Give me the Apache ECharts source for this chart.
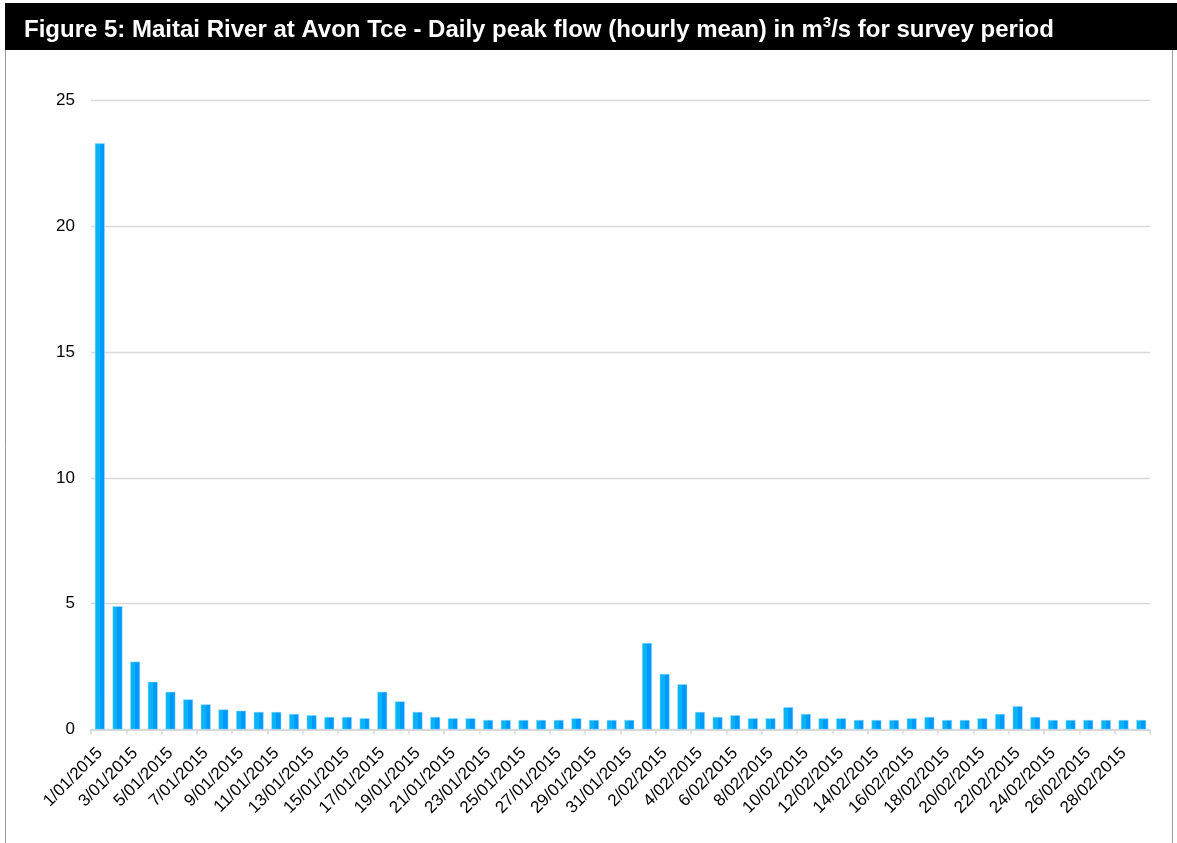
<!DOCTYPE html>
<html>
<head>
<meta charset="utf-8">
<script src="https://cdn.jsdelivr.net/npm/echarts@6/dist/echarts.min.js"></script>
<style>
html,body{margin:0;padding:0;background:#fff;}
#c{width:1177px;height:843px;}
</style>
</head>
<body>
<div id="c"></div>
<script>
var titleText = 'Figure 5: Maitai River at Avon Tce - Daily peak flow (hourly mean) in m{sup|3}/s for survey period';

var categories = [
  '1/01/2015','2/01/2015','3/01/2015','4/01/2015','5/01/2015','6/01/2015','7/01/2015','8/01/2015','9/01/2015','10/01/2015',
  '11/01/2015','12/01/2015','13/01/2015','14/01/2015','15/01/2015','16/01/2015','17/01/2015','18/01/2015','19/01/2015','20/01/2015',
  '21/01/2015','22/01/2015','23/01/2015','24/01/2015','25/01/2015','26/01/2015','27/01/2015','28/01/2015','29/01/2015','30/01/2015',
  '31/01/2015','1/02/2015','2/02/2015','3/02/2015','4/02/2015','5/02/2015','6/02/2015','7/02/2015','8/02/2015','9/02/2015',
  '10/02/2015','11/02/2015','12/02/2015','13/02/2015','14/02/2015','15/02/2015','16/02/2015','17/02/2015','18/02/2015','19/02/2015',
  '20/02/2015','21/02/2015','22/02/2015','23/02/2015','24/02/2015','25/02/2015','26/02/2015','27/02/2015','28/02/2015','1/03/2015'
];

var peakFlow = [
  23.3, 4.9, 2.7, 1.9, 1.5, 1.2, 1.0, 0.8, 0.75, 0.7,
  0.7, 0.62, 0.57, 0.5, 0.5, 0.45, 1.5, 1.12, 0.7, 0.5,
  0.45, 0.45, 0.38, 0.38, 0.38, 0.38, 0.38, 0.45, 0.38, 0.38,
  0.38, 3.44, 2.21, 1.8, 0.7, 0.5, 0.57, 0.45, 0.45, 0.89,
  0.62, 0.45, 0.45, 0.38, 0.38, 0.38, 0.45, 0.5, 0.38, 0.38,
  0.45, 0.62, 0.93, 0.5, 0.38, 0.38, 0.38, 0.38, 0.38, 0.38
];

var yMin = 0, yMax = 25, yInterval = 5;

var chart = echarts.init(document.getElementById('c'), null, {renderer: 'canvas'});
var font = '"Liberation Sans", Arial, sans-serif';

chart.setOption({
  backgroundColor: '#ffffff',
  animation: false,
  graphic: [
    {type: 'rect', z: -1, shape: {x: 5.5, y: 49.5, width: 1167, height: 820}, style: {fill: '#ffffff', stroke: '#9a9a9a', lineWidth: 1}},
    {type: 'rect', z: 0, shape: {x: 5, y: 3, width: 1172, height: 47}, style: {fill: '#000000'}}
  ],
  title: {
    text: titleText,
    left: 19,
    top: 10,
    textStyle: {
      color: '#ffffff', fontFamily: font, fontWeight: 'bold', fontSize: 24, lineHeight: 30,
      rich: {sup: {color: '#ffffff', fontFamily: font, fontWeight: 'bold', fontSize: 15, lineHeight: 30, verticalAlign: 'top', padding: [0,0,10,0]}}
    },
    z: 10
  },
  grid: {left: 91, right: 27, top: 100.5, bottom: 113.5, containLabel: false},
  xAxis: {
    type: 'category',
    data: categories,
    boundaryGap: true,
    axisLine: {show: true, lineStyle: {color: '#d9d9d9', width: 2}},
    axisTick: {show: true, interval: 1, length: 5, lineStyle: {color: '#d9d9d9', width: 1.5}},
    axisLabel: {interval: 1, rotate: 45, margin: 21, color: '#000000', fontFamily: font, fontSize: 17}
  },
  yAxis: {
    type: 'value',
    min: yMin, max: yMax, interval: yInterval,
    axisLine: {show: false},
    axisTick: {show: false},
    splitLine: {show: true, lineStyle: {color: '#d9d9d9', width: 1.3}},
    axisLabel: {margin: 16, color: '#000000', fontFamily: font, fontSize: 17}
  },
  series: [{
    type: 'bar',
    data: peakFlow,
    barWidth: 10,
    itemStyle: {
      color: new echarts.graphic.LinearGradient(0, 0, 1, 0, [
        {offset: 0, color: '#08b4f4'},
        {offset: 0.5, color: '#08b4f4'},
        {offset: 0.5, color: '#0099ff'},
        {offset: 1, color: '#0099ff'}
      ]),
      borderColor: 'rgba(170,225,255,0.8)',
      borderWidth: 0.6
    }
  }]
});
</script>
</body>
</html>
